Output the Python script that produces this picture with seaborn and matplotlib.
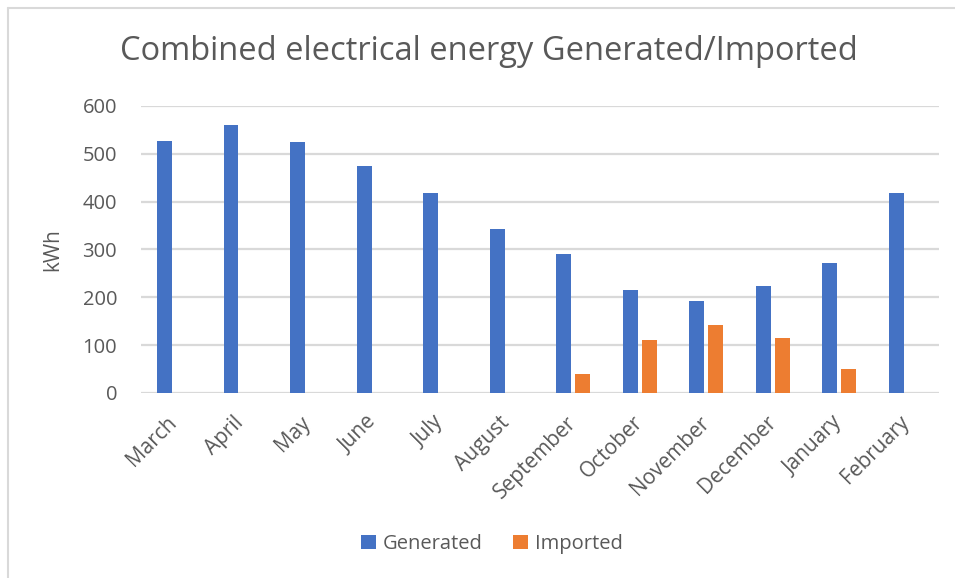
import numpy as np
import pandas as pd
import matplotlib
matplotlib.use("Agg")
import matplotlib.pyplot as plt
from matplotlib.patches import Patch
from matplotlib.lines import Line2D
import seaborn as sns

months = ["March", "April", "May", "June", "July", "August", "September",
          "October", "November", "December", "January", "February"]
generated = [527, 561, 525, 475, 419, 343, 291, 216, 193, 223, 271, 419]
imported = [None, None, None, None, None, None, 39, 110, 142, 114, 51, None]
series_names = ["Generated", "Imported"]
y_ticks = [0, 100, 200, 300, 400, 500, 600]

BLUE = "#4472C4"
ORANGE = "#ED7D31"
TEXT = "#595959"
GRID = "#D9D9D9"

sns.set_theme(style="white")
plt.rcParams["font.family"] = ["Open Sans", "DejaVu Sans"]

df = pd.DataFrame({
    "Month": months * 2,
    "Series": [series_names[0]] * len(months) + [series_names[1]] * len(months),
    "kWh": np.array(generated + imported, dtype=float),
})

W, H, DPI = 955, 578, 100
fig = plt.figure(figsize=(W / DPI, H / DPI), dpi=DPI)
fig.patch.set_facecolor("white")

# plot area in pixel coordinates
x0, x1, y_top, y_bot = 140.7, 939.0, 106.0, 393.0
ax = fig.add_axes([x0 / W, 1 - y_bot / H, (x1 - x0) / W, (y_bot - y_top) / H])

sns.barplot(data=df, x="Month", y="kWh", hue="Series", order=months,
            hue_order=series_names, palette=[BLUE, ORANGE], saturation=1,
            width=0.57, gap=0.21, ax=ax, legend=False, errorbar=None,
            edgecolor="none", linewidth=0)

ax.set_ylim(0, 600)
ax.set_xlim(-0.5, len(months) - 0.5)
ax.set_yticks(y_ticks)
ax.set_yticklabels([str(v) for v in y_ticks])
ax.yaxis.grid(True, color=GRID, linewidth=1.6)
ax.set_axisbelow(True)
for s in ax.spines.values():
    s.set_visible(False)

ax.tick_params(axis="y", length=0, pad=17, labelsize=14.5, labelcolor=TEXT)
ax.tick_params(axis="x", length=0, pad=19, labelsize=15, labelcolor=TEXT)
for lab in ax.get_xticklabels():
    lab.set_rotation(45)
    lab.set_ha("right")
    lab.set_va("center")
    lab.set_rotation_mode("anchor")

ax.set_xlabel("")
ax.set_ylabel("kWh", fontsize=15, color=TEXT, labelpad=14)

fig.text(489 / W, 1 - 51 / H, "Combined electrical energy Generated/Imported",
         ha="center", va="center", fontsize=23.5, color=TEXT)

handles = [Patch(facecolor=BLUE, edgecolor="none"),
           Patch(facecolor=ORANGE, edgecolor="none")]
fig.legend(handles, series_names, loc="center", bbox_to_anchor=(492 / W, 1 - 544 / H),
           ncol=2, frameon=False, fontsize=14.5, labelcolor=TEXT,
           handlelength=0.75, handleheight=0.75, handletextpad=0.35,
           columnspacing=1.5)

# chart frame: top and left edges
fig.add_artist(Line2D([7.5 / W, 7.5 / W], [0, 1 - 7.5 / H], transform=fig.transFigure,
                      color=GRID, linewidth=1.5))
fig.add_artist(Line2D([7.5 / W, 1], [1 - 7.5 / H, 1 - 7.5 / H], transform=fig.transFigure,
                      color=GRID, linewidth=1.5))

fig.savefig("out.png", dpi=DPI, facecolor="white")
